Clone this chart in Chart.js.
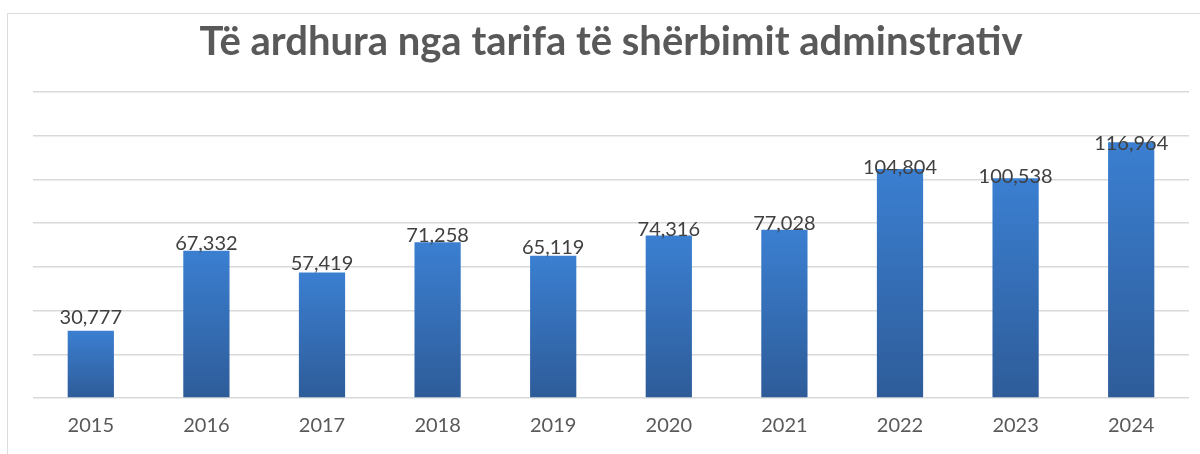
<!DOCTYPE html>
<html>
<head>
<meta charset="utf-8">
<script src="https://cdn.jsdelivr.net/npm/chart.js@4"></script>
<style>
  body { margin: 0; background: #fff; overflow: hidden; }
  #moldura { position: absolute; left: 7px; top: 13px; width: 1300px; height: 600px; border-left: 1px solid #dcdcdc; border-top: 1px solid #dcdcdc; }
  #caixa { position: absolute; left: 0; top: 0; width: 1200px; height: 454px; }
</style>
</head>
<body>
<div id="moldura"></div>
<div id="caixa"><canvas id="grafico" width="1200" height="454"></canvas></div>
<script>
const anos = ['2015', '2016', '2017', '2018', '2019', '2020', '2021', '2022', '2023', '2024'];
const valores = [30777, 67332, 57419, 71258, 65119, 74316, 77028, 104804, 100538, 116964];
const titulo = 'Të ardhura nga tarifa të shërbimit adminstrativ';

Chart.defaults.font.family = 'Lato';

// rótulos de valor acima das barras
const rotulos = {
    id: 'rotulos',
    afterDatasetsDraw(chart) {
        const ctx = chart.ctx;
        const y = chart.scales.y;
        chart.getDatasetMeta(0).data.forEach((barra, i) => {
            const v = valores[i];
            ctx.save();
            ctx.font = '20px Lato';
            ctx.fillStyle = '#404040';
            ctx.textAlign = 'center';
            ctx.textBaseline = 'alphabetic';
            ctx.fillText(v.toLocaleString('en-US'), barra.x, y.getPixelForValue(v * 0.925) - 12);
            ctx.restore();
        });
    }
};

function degrade(c) {
    const chart = c.chart;
    if (!chart.chartArea) return '#3a7dcf';
    const topo = chart.scales.y.getPixelForValue(c.raw);
    const base = chart.scales.y.getPixelForValue(0);
    const g = chart.ctx.createLinearGradient(0, topo, 0, base);
    g.addColorStop(0, '#3b7fd1');
    g.addColorStop(1, '#2e5c99');
    return g;
}

new Chart('grafico', {
    type: 'bar',
    data: {
        labels: anos,
        datasets: [{
            data: valores,
            backgroundColor: degrade,
            barPercentage: 0.4,
            categoryPercentage: 1
        }]
    },
    options: {
        responsive: false,
        animation: false,
        layout: { padding: { left: 33, right: 11, top: 0, bottom: 8 } },
        plugins: {
            legend: { display: false },
            tooltip: { enabled: false },
            title: {
                display: true,
                text: titulo,
                color: '#595959',
                fullSize: false,
                font: { size: 40, weight: 'bold' },
                padding: { top: 18, bottom: 26 }
            }
        },
        scales: {
            x: {
                grid: { display: false },
                border: { display: false },
                ticks: { color: '#595959', font: { size: 20 }, padding: 8 }
            },
            y: {
                min: 0,
                max: 140000,
                ticks: { display: false, stepSize: 20000 },
                border: { display: false },
                grid: { color: '#d9d9d9', lineWidth: 1.5, drawTicks: false }
            }
        }
    },
    plugins: [rotulos]
});
</script>
</body>
</html>
